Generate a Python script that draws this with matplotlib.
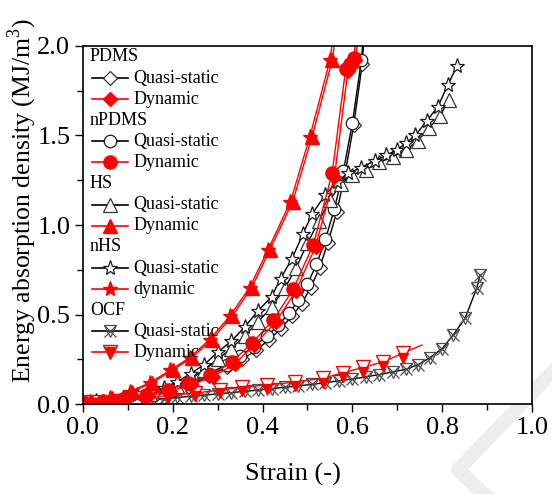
import matplotlib
matplotlib.use("Agg")
import matplotlib.pyplot as plt
from matplotlib.ticker import MultipleLocator
from matplotlib.lines import Line2D

plt.rcParams['font.family'] = ['Liberation Serif', 'DejaVu Serif']
plt.rcParams['mathtext.fontset'] = 'custom'
plt.rcParams['mathtext.rm'] = 'Liberation Serif'

# --- data (strain, energy absorption density MJ/m3) ---
# PDMS
pdms_qs_x = [0.00, 0.04, 0.08, 0.12, 0.16, 0.20, 0.24, 0.28, 0.32, 0.355, 0.385, 0.415,
             0.44, 0.465, 0.487, 0.507, 0.527, 0.545, 0.565, 0.584, 0.603, 0.622, 0.627]
pdms_qs_y = [0.0, 0.008, 0.015, 0.03, 0.05, 0.075, 0.11, 0.155, 0.205, 0.25, 0.30, 0.36,
             0.42, 0.49, 0.56, 0.65, 0.76, 0.90, 1.07, 1.29, 1.56, 1.90, 2.10]
pdms_dyn_x = [0.0, 0.05, 0.095, 0.145, 0.195, 0.24, 0.29, 0.338, 0.382, 0.43, 0.474,
              0.518, 0.56, 0.59, 0.598, 0.606, 0.616]
pdms_dyn_y = [0.005, 0.012, 0.025, 0.045, 0.072, 0.108, 0.152, 0.225, 0.33, 0.46, 0.63,
              0.88, 1.27, 1.86, 1.89, 1.92, 2.10]

# nPDMS
npdms_qs_x = [0.00, 0.04, 0.08, 0.12, 0.16, 0.20, 0.24, 0.28, 0.32, 0.35, 0.38, 0.41,
              0.435, 0.46, 0.48, 0.50, 0.52, 0.54, 0.56, 0.58, 0.60, 0.62, 0.626]
npdms_qs_y = [0.005, 0.01, 0.02, 0.035, 0.055, 0.08, 0.12, 0.17, 0.22, 0.27, 0.32, 0.38,
              0.44, 0.51, 0.58, 0.67, 0.78, 0.92, 1.09, 1.30, 1.57, 1.92, 2.10]
npdms_dyn_x = [0.0, 0.045, 0.09, 0.14, 0.19, 0.234, 0.283, 0.332, 0.376, 0.424, 0.468,
               0.513, 0.555, 0.585, 0.595, 0.603, 0.61]
npdms_dyn_y = [0.01, 0.015, 0.03, 0.05, 0.08, 0.117, 0.16, 0.235, 0.34, 0.47, 0.64,
               0.89, 1.29, 1.87, 1.90, 1.93, 2.10]

# HS
hs_qs_x = [0.00, 0.03, 0.06, 0.09, 0.12, 0.15, 0.18, 0.21, 0.24, 0.27, 0.30, 0.33, 0.36,
           0.39, 0.42, 0.45, 0.475, 0.50, 0.525, 0.55, 0.575, 0.60, 0.63, 0.66, 0.69,
           0.72, 0.745, 0.77, 0.795, 0.815]
hs_qs_y = [0.005, 0.01, 0.02, 0.03, 0.04, 0.055, 0.075, 0.10, 0.14, 0.19, 0.25, 0.31, 0.38,
           0.46, 0.54, 0.65, 0.76, 0.90, 1.02, 1.14, 1.23, 1.28, 1.31, 1.35, 1.38,
           1.42, 1.47, 1.54, 1.61, 1.70]
hs_dyn_x = [0.0, 0.02, 0.065, 0.11, 0.155, 0.20, 0.243, 0.287, 0.332, 0.376, 0.416,
            0.467, 0.51, 0.555, 0.565]
hs_dyn_y = [0.0, 0.01, 0.035, 0.07, 0.12, 0.19, 0.26, 0.36, 0.49, 0.65, 0.86,
            1.13, 1.49, 1.92, 2.10]

# nHS
nhs_qs_x = [0.00, 0.03, 0.06, 0.09, 0.12, 0.15, 0.18, 0.21, 0.24, 0.27, 0.30, 0.33, 0.36,
            0.39, 0.42, 0.44, 0.465, 0.49, 0.51, 0.54, 0.565, 0.59, 0.62, 0.65, 0.675,
            0.70, 0.72, 0.74, 0.765, 0.79, 0.812, 0.833]
nhs_qs_y = [0.01, 0.015, 0.025, 0.035, 0.05, 0.065, 0.09, 0.125, 0.17, 0.22, 0.29, 0.35, 0.43,
            0.52, 0.60, 0.70, 0.81, 0.95, 1.06, 1.17, 1.24, 1.29, 1.32, 1.36, 1.39,
            1.42, 1.46, 1.50, 1.58, 1.66, 1.78, 1.89]
nhs_dyn_x = [0.0, 0.015, 0.06, 0.105, 0.15, 0.195, 0.238, 0.282, 0.327, 0.371, 0.412,
             0.462, 0.505, 0.55, 0.56]
nhs_dyn_y = [0.0, 0.01, 0.035, 0.07, 0.12, 0.19, 0.26, 0.36, 0.49, 0.65, 0.86,
             1.13, 1.49, 1.92, 2.10]

# OCF
ocf_qs_x = [0.00, 0.03, 0.06, 0.09, 0.12, 0.15, 0.18, 0.21, 0.24, 0.27, 0.30, 0.33, 0.36,
            0.39, 0.42, 0.45, 0.48, 0.51, 0.54, 0.57, 0.60, 0.63, 0.66, 0.69, 0.72,
            0.746, 0.773, 0.80, 0.824, 0.851, 0.877, 0.884]
ocf_qs_y = [0.0, 0.005, 0.01, 0.015, 0.02, 0.025, 0.03, 0.037, 0.043, 0.05, 0.057, 0.064,
            0.071, 0.078, 0.086, 0.094, 0.102, 0.11, 0.12, 0.13, 0.14, 0.152, 0.165, 0.18,
            0.195, 0.22, 0.26, 0.31, 0.385, 0.48, 0.65, 0.72]
ocf_dyn_x = [0.02, 0.08, 0.135, 0.19, 0.25, 0.305, 0.354, 0.41, 0.472, 0.535, 0.58,
             0.624, 0.668, 0.713, 0.755]
ocf_dyn_y = [0.01, 0.02, 0.032, 0.048, 0.062, 0.078, 0.095, 0.106, 0.123, 0.145, 0.175,
             0.205, 0.235, 0.285, 0.33]
ocf_dyn2_y = [0.005, 0.012, 0.022, 0.035, 0.047, 0.06, 0.075, 0.086, 0.10, 0.12, 0.15,
              0.18, 0.21, 0.26, 0.30]

xticks = [0.0, 0.2, 0.4, 0.6, 0.8, 1.0]
yticks = [0.0, 0.5, 1.0, 1.5, 2.0]

RED = '#ff0000'
GRAY = '0.3'

# styles
s_pdms_qs = dict(color='k', marker='D', ms=7, mfc='white', mec='0.2', mew=0.9)
s_pdms_dyn = dict(color=RED, marker='D', ms=7.5, mfc=RED, mec=RED)
s_npdms_qs = dict(color='k', marker='o', ms=9, mfc='white', mec='0.1', mew=0.9)
s_npdms_dyn = dict(color=RED, marker='o', ms=9.5, mfc=RED, mec=RED)
s_hs_qs = dict(color='k', marker='^', ms=9.5, mfc='white', mec='0.2', mew=0.9)
s_hs_dyn = dict(color=RED, marker='^', ms=9.5, mfc=RED, mec=RED)
s_nhs_qs = dict(color='k', marker='*', ms=11, mfc='white', mec='0.1', mew=0.9)
s_nhs_dyn = dict(color=RED, marker='*', ms=11, mfc=RED, mec=RED)
s_ocf_qs_x = dict(color='k', marker='x', ms=9, mec=GRAY, mew=0.9)
s_ocf_qs_v = dict(color='none', marker='v', ms=8.5, mfc='none', mec=GRAY, mew=0.9)
s_ocf_dyn = dict(color=RED, marker='v', ms=9.5, mfc='white', mec=RED, mew=1.0)
s_ocf_dyn2 = dict(color='none', marker='v', ms=6.5, mfc=RED, mec=RED)

fig = plt.figure(figsize=(5.52, 4.94), dpi=100)
ax = fig.add_axes([0.150, 0.182, 0.814, 0.725])

lw = 1.0
ax.plot(ocf_qs_x, ocf_qs_y, lw=lw, **s_ocf_qs_x)
ax.plot(ocf_qs_x, ocf_qs_y, lw=0, **s_ocf_qs_v)
ax.plot(pdms_qs_x, pdms_qs_y, lw=lw, **s_pdms_qs)
ax.plot(npdms_qs_x, npdms_qs_y, lw=lw, **s_npdms_qs)
ax.plot(hs_qs_x, hs_qs_y, lw=lw, **s_hs_qs)
ax.plot(nhs_qs_x, nhs_qs_y, lw=lw, **s_nhs_qs)
ax.plot(ocf_dyn_x, ocf_dyn_y, lw=lw, markevery=slice(0, -1), **s_ocf_dyn)
ax.plot(ocf_dyn_x, ocf_dyn2_y, lw=0, markevery=slice(0, -1), **s_ocf_dyn2)
ax.plot(pdms_dyn_x, pdms_dyn_y, lw=lw, **s_pdms_dyn)
ax.plot(npdms_dyn_x, npdms_dyn_y, lw=lw, **s_npdms_dyn)
ax.plot(hs_dyn_x, hs_dyn_y, lw=lw, **s_hs_dyn)
ax.plot(nhs_dyn_x, nhs_dyn_y, lw=lw, **s_nhs_dyn)

ax.set_xlim(0, 1.0)
ax.set_ylim(0, 2.0)
ax.set_xticks(xticks)
ax.set_yticks(yticks)
ax.set_xticklabels([f'{t:.1f}' for t in xticks])
ax.set_yticklabels([f'{t:.1f}' for t in yticks])
ax.xaxis.set_minor_locator(MultipleLocator(0.1))
ax.yaxis.set_minor_locator(MultipleLocator(0.25))
ax.tick_params(which='both', direction='out', top=False, right=False, labelsize=19, width=1.0)
ax.tick_params(which='major', length=6, pad=3)
ax.tick_params(which='minor', length=4)
for sp in ax.spines.values():
    sp.set_linewidth(1.2)

ax.set_xlabel('Strain (-)', fontsize=19)
ax.set_ylabel('Energy absorption density (MJ/m$^3$)', fontsize=18.5)
ax.xaxis.set_label_coords(0.468, -0.165)
ax.yaxis.set_label_coords(-0.097, 0.567)

# legend drawn by hand: group headers followed by sample rows
rows = [('PDMS', None), ('Quasi-static', [s_pdms_qs]), ('Dynamic', [s_pdms_dyn]),
        ('nPDMS', None), ('Quasi-static', [s_npdms_qs]), ('Dynamic', [s_npdms_dyn]),
        ('HS', None), ('Quasi-static', [s_hs_qs]), ('Dynamic', [s_hs_dyn]),
        ('nHS', None), ('Quasi-static', [s_nhs_qs]), ('dynamic', [s_nhs_dyn]),
        ('OCF', None), ('Quasi-static', [s_ocf_qs_x, s_ocf_qs_v]),
        ('Dynamic', [s_ocf_dyn, s_ocf_dyn2])]
for i, (label, styles) in enumerate(rows):
    yy = (404 - 57 - 21.1 * i) / 358
    if styles is None:
        ax.text(0.016, yy, label, transform=ax.transAxes, fontsize=13, va='center', ha='left')
        continue
    ax.plot([0.02, 0.10], [yy, yy], transform=ax.transAxes, lw=1.2,
            color=styles[0]['color'], clip_on=False)
    for st in styles:
        st2 = {k: v for k, v in st.items() if k != 'color'}
        ax.plot([0.06], [yy], transform=ax.transAxes, lw=0, clip_on=False, **st2)
    ax.text(0.113, yy, label, transform=ax.transAxes, fontsize=13, va='center', ha='left')

# faint watermark corner at bottom right
fig.add_artist(Line2D([552 / 552, 458 / 552, 484 / 552], [1 - 372 / 494, 1 - 470 / 494, 0.0],
                      transform=fig.transFigure, color='#ededed', lw=10, zorder=-1))

fig.savefig('out.png', dpi=100)
